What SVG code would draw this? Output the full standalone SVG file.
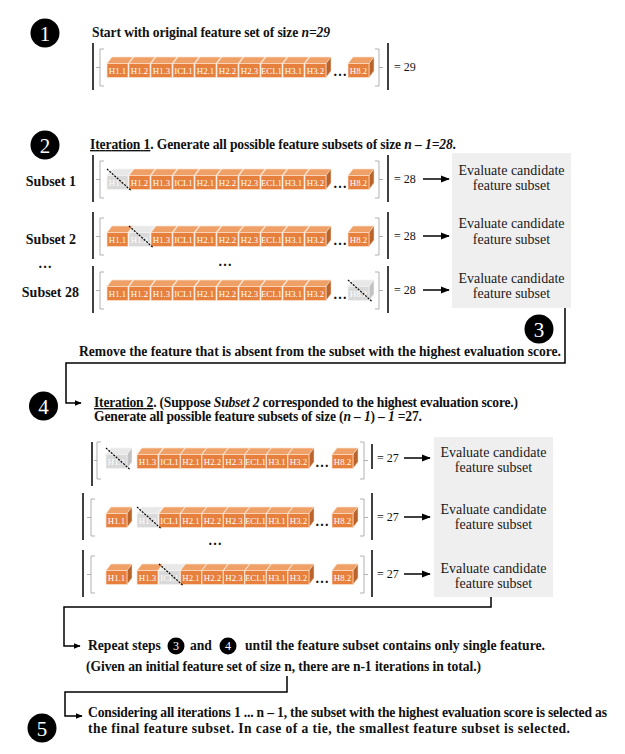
<svg xmlns="http://www.w3.org/2000/svg" width="625" height="754" viewBox="0 0 625 754">
<style>
.b{font-family:"Liberation Serif","Times New Roman",serif;font-weight:bold;font-size:13.6px;fill:#111}
.sl{font-family:"Liberation Serif","Times New Roman",serif;font-weight:bold;font-size:14px;fill:#111;text-anchor:end}
.r{font-family:"Liberation Serif","Times New Roman",serif;font-size:14px;fill:#1a1a1a;text-anchor:middle}
.cl{font-family:"Liberation Serif","Times New Roman",serif;font-size:8.8px;fill:#fff;text-anchor:middle}
.eq{font-family:"Liberation Serif","Times New Roman",serif;font-size:12px;fill:#111}
.dt{font-family:"Liberation Serif","Times New Roman",serif;font-weight:bold;font-size:14px;fill:#111;text-anchor:middle}
.num{font-family:"Liberation Serif","Times New Roman",serif;font-size:21px;fill:#fff;text-anchor:middle}
.nums{font-family:"Liberation Serif","Times New Roman",serif;font-size:12px;fill:#fff;text-anchor:middle}
.bar{stroke:#000;stroke-width:1.5}
.brk{fill:none;stroke:#a8a8a8;stroke-width:0.9}
.of{fill:#E8803D;stroke:#FBE3CF;stroke-width:0.7}
.ot{fill:#EFA067;stroke:#FBE3CF;stroke-width:0.7}
.os{fill:#BA632B;stroke:#FBE3CF;stroke-width:0.5}
.gf{fill:#D9D9D9;stroke:#f4f4f4;stroke-width:0.7}
.gt{fill:#E8E8E8;stroke:#f4f4f4;stroke-width:0.7}
.gs{fill:#C2C2C2;stroke:#f4f4f4;stroke-width:0.5}
.cut{stroke:#000;stroke-width:1.2;stroke-dasharray:2 1.3}
.con{fill:none;stroke:#000;stroke-width:1.5}
.box{fill:#EFEFEF}
</style>
<defs>
<marker id="ah" viewBox="0 0 10 8" refX="9" refY="4" markerWidth="9" markerHeight="8" markerUnits="userSpaceOnUse" orient="auto"><path d="M0,0 L10,4 L0,8 Z" fill="#000"/></marker>
<marker id="ahs" viewBox="0 0 10 8" refX="9" refY="4" markerWidth="7" markerHeight="6" markerUnits="userSpaceOnUse" orient="auto"><path d="M0,0 L10,4 L0,8 Z" fill="#000"/></marker>
<g id="co"><path class="ot" d="M0,0 L5,-6.5 L26,-6.5 L21,0Z"/><rect class="of" x="0" y="0" width="21" height="14"/></g>
<g id="cos"><path class="ot" d="M0,0 L5,-6.5 L26,-6.5 L21,0Z"/><path class="os" d="M21,0 L26,-6.5 L26,7.5 L21,14Z"/><rect class="of" x="0" y="0" width="21" height="14"/></g>
<g id="cg"><path class="gt" d="M0,0 L5,-6.5 L26,-6.5 L21,0Z"/><rect class="gf" x="0" y="0" width="21" height="14"/></g>
<g id="cgs"><path class="gt" d="M0,0 L5,-6.5 L26,-6.5 L21,0Z"/><path class="gs" d="M21,0 L26,-6.5 L26,7.5 L21,14Z"/><rect class="gf" x="0" y="0" width="21" height="14"/></g>
</defs>
<rect width="625" height="754" fill="#fff"/>

<!-- Step 1 -->
<g id="step1">
<circle cx="45" cy="33" r="14.5" fill="#000"/><text class="num" x="45" y="40.5">1</text>
<text class="b" x="92" y="37" textLength="238">Start with original feature set of size <tspan font-style="italic">n=29</tspan></text>
</g>
<g id="row0" transform="translate(0,65)">
<line class="bar" x1="93" y1="-22" x2="93" y2="25"/>
<path class="brk" d="M104,-16 H100 V21 H104 M100,2.5 H96"/>
<use href="#co" x="107" y="-1.5"/><text class="cl" x="117.5" y="8.8">H1.1</text>
<use href="#co" x="129" y="-1.5"/><text class="cl" x="139.5" y="8.8">H1.2</text>
<use href="#co" x="151" y="-1.5"/><text class="cl" x="161.5" y="8.8">H1.3</text>
<use href="#co" x="173" y="-1.5"/><text class="cl" x="183.5" y="8.8">ICL1</text>
<use href="#co" x="195" y="-1.5"/><text class="cl" x="205.5" y="8.8">H2.1</text>
<use href="#co" x="217" y="-1.5"/><text class="cl" x="227.5" y="8.8">H2.2</text>
<use href="#co" x="239" y="-1.5"/><text class="cl" x="249.5" y="8.8">H2.3</text>
<use href="#co" x="261" y="-1.5"/><text class="cl" x="271.5" y="8.8">ECL1</text>
<use href="#co" x="283" y="-1.5"/><text class="cl" x="293.5" y="8.8">H3.1</text>
<use href="#cos" x="305" y="-1.5"/><text class="cl" x="315.5" y="8.8">H3.2</text>
<text class="dt" x="340" y="11">…</text>
<use href="#cos" x="348" y="-1.5"/><text class="cl" x="358.5" y="8.8">H8.2</text>
<path class="brk" d="M375,-16 H379 V21 H375 M379,2.5 H383"/>
<line class="bar" x1="388" y1="-22" x2="388" y2="25"/>
<text class="eq" x="394" y="6">= 29</text>
</g>

<!-- Step 2 -->
<g id="step2">
<circle cx="45" cy="145" r="14.5" fill="#000"/><text class="num" x="45" y="152.5">2</text>
<text class="b" x="90" y="149" textLength="366"><tspan text-decoration="underline">Iteration 1</tspan>. Generate all possible feature subsets of size <tspan font-style="italic">n – 1=28</tspan>.</text>
<text class="sl" x="76" y="186">Subset 1</text>
<text class="sl" x="76" y="243.5">Subset 2</text>
<text class="dt" x="45" y="268">…</text>
<text class="sl" x="79" y="297">Subset 28</text>
<text class="dt" x="225" y="266">…</text>
</g>
<g id="rowA" transform="translate(0,177)">
<line class="bar" x1="93" y1="-22" x2="93" y2="25"/>
<path class="brk" d="M104,-16 H100 V21 H104 M100,2.5 H96"/>
<use href="#cg" x="107" y="-1.5"/><text class="cl" x="117.5" y="8.8">H1.1</text>
<use href="#co" x="129" y="-1.5"/><text class="cl" x="139.5" y="8.8">H1.2</text>
<use href="#co" x="151" y="-1.5"/><text class="cl" x="161.5" y="8.8">H1.3</text>
<use href="#co" x="173" y="-1.5"/><text class="cl" x="183.5" y="8.8">ICL1</text>
<use href="#co" x="195" y="-1.5"/><text class="cl" x="205.5" y="8.8">H2.1</text>
<use href="#co" x="217" y="-1.5"/><text class="cl" x="227.5" y="8.8">H2.2</text>
<use href="#co" x="239" y="-1.5"/><text class="cl" x="249.5" y="8.8">H2.3</text>
<use href="#co" x="261" y="-1.5"/><text class="cl" x="271.5" y="8.8">ECL1</text>
<use href="#co" x="283" y="-1.5"/><text class="cl" x="293.5" y="8.8">H3.1</text>
<use href="#cos" x="305" y="-1.5"/><text class="cl" x="315.5" y="8.8">H3.2</text>
<text class="dt" x="340" y="11">…</text>
<use href="#cos" x="348" y="-1.5"/><text class="cl" x="358.5" y="8.8">H8.2</text>
<line class="cut" x1="107" y1="-8" x2="131" y2="13.5"/>
<path class="brk" d="M375,-16 H379 V21 H375 M379,2.5 H383"/>
<line class="bar" x1="388" y1="-22" x2="388" y2="25"/>
<text class="eq" x="394" y="6">= 28</text>
</g>
<g id="rowB" transform="translate(0,234)">
<line class="bar" x1="93" y1="-22" x2="93" y2="25"/>
<path class="brk" d="M104,-16 H100 V21 H104 M100,2.5 H96"/>
<use href="#co" x="107" y="-1.5"/><text class="cl" x="117.5" y="8.8">H1.1</text>
<use href="#cg" x="129" y="-1.5"/><text class="cl" x="139.5" y="8.8">H1.2</text>
<use href="#co" x="151" y="-1.5"/><text class="cl" x="161.5" y="8.8">H1.3</text>
<use href="#co" x="173" y="-1.5"/><text class="cl" x="183.5" y="8.8">ICL1</text>
<use href="#co" x="195" y="-1.5"/><text class="cl" x="205.5" y="8.8">H2.1</text>
<use href="#co" x="217" y="-1.5"/><text class="cl" x="227.5" y="8.8">H2.2</text>
<use href="#co" x="239" y="-1.5"/><text class="cl" x="249.5" y="8.8">H2.3</text>
<use href="#co" x="261" y="-1.5"/><text class="cl" x="271.5" y="8.8">ECL1</text>
<use href="#co" x="283" y="-1.5"/><text class="cl" x="293.5" y="8.8">H3.1</text>
<use href="#cos" x="305" y="-1.5"/><text class="cl" x="315.5" y="8.8">H3.2</text>
<text class="dt" x="340" y="11">…</text>
<use href="#cos" x="348" y="-1.5"/><text class="cl" x="358.5" y="8.8">H8.2</text>
<line class="cut" x1="129" y1="-8" x2="153" y2="13.5"/>
<path class="brk" d="M375,-16 H379 V21 H375 M379,2.5 H383"/>
<line class="bar" x1="388" y1="-22" x2="388" y2="25"/>
<text class="eq" x="394" y="6">= 28</text>
</g>
<g id="rowC" transform="translate(0,288)">
<line class="bar" x1="93" y1="-22" x2="93" y2="25"/>
<path class="brk" d="M104,-16 H100 V21 H104 M100,2.5 H96"/>
<use href="#co" x="107" y="-1.5"/><text class="cl" x="117.5" y="8.8">H1.1</text>
<use href="#co" x="129" y="-1.5"/><text class="cl" x="139.5" y="8.8">H1.2</text>
<use href="#co" x="151" y="-1.5"/><text class="cl" x="161.5" y="8.8">H1.3</text>
<use href="#co" x="173" y="-1.5"/><text class="cl" x="183.5" y="8.8">ICL1</text>
<use href="#co" x="195" y="-1.5"/><text class="cl" x="205.5" y="8.8">H2.1</text>
<use href="#co" x="217" y="-1.5"/><text class="cl" x="227.5" y="8.8">H2.2</text>
<use href="#co" x="239" y="-1.5"/><text class="cl" x="249.5" y="8.8">H2.3</text>
<use href="#co" x="261" y="-1.5"/><text class="cl" x="271.5" y="8.8">ECL1</text>
<use href="#co" x="283" y="-1.5"/><text class="cl" x="293.5" y="8.8">H3.1</text>
<use href="#cos" x="305" y="-1.5"/><text class="cl" x="315.5" y="8.8">H3.2</text>
<text class="dt" x="340" y="11">…</text>
<use href="#cgs" x="348" y="-1.5"/><text class="cl" x="358.5" y="8.8">H8.2</text>
<line class="cut" x1="348" y1="-8" x2="372" y2="13.5"/>
<path class="brk" d="M375,-16 H379 V21 H375 M379,2.5 H383"/>
<line class="bar" x1="388" y1="-22" x2="388" y2="25"/>
<text class="eq" x="394" y="6">= 28</text>
</g>
<g id="eval1">
<rect class="box" x="452" y="153" width="119" height="155"/>
<text class="r" x="511.5" y="174.5">Evaluate candidate</text><text class="r" x="511.5" y="189.5">feature subset</text>
<text class="r" x="511.5" y="227.5">Evaluate candidate</text><text class="r" x="511.5" y="243.5">feature subset</text>
<text class="r" x="511.5" y="282.5">Evaluate candidate</text><text class="r" x="511.5" y="297.5">feature subset</text>
</g>

<!-- Step 3 -->
<g id="step3">
<circle cx="539" cy="329" r="14.5" fill="#000"/><text class="num" x="539" y="336.5">3</text>
<text class="b" x="79" y="356" textLength="482">Remove the feature that is absent from the subset with the highest evaluation score.</text>
</g>

<!-- Step 4 -->
<g id="step4">
<circle cx="43.5" cy="406" r="14.5" fill="#000"/><text class="num" x="43.5" y="413.5">4</text>
<text class="b" x="94" y="407" textLength="424"><tspan text-decoration="underline">Iteration 2</tspan>. (Suppose <tspan font-style="italic">Subset 2</tspan> corresponded to the highest evaluation score.)</text>
<text class="b" x="94" y="421" textLength="328">Generate all possible feature subsets of size (<tspan font-style="italic">n – 1</tspan>) – <tspan font-style="italic">1</tspan> =27.</text>
<text class="dt" x="215" y="545">…</text>
</g>
<g id="rowD" transform="translate(0,456)">
<line class="bar" x1="92" y1="-14" x2="92" y2="30"/>
<path class="brk" d="M101,-14 H97 V23 H101 M97,4.5 H94"/>
<use href="#cgs" x="106" y="-1.5"/><text class="cl" x="116.5" y="8.8">H1.1</text>
<use href="#co" x="137" y="-1.5"/><text class="cl" x="147.5" y="8.8">H1.3</text>
<use href="#co" x="159" y="-1.5"/><text class="cl" x="169.5" y="8.8">ICL1</text>
<use href="#co" x="180.5" y="-1.5"/><text class="cl" x="191" y="8.8">H2.1</text>
<use href="#co" x="202" y="-1.5"/><text class="cl" x="212.5" y="8.8">H2.2</text>
<use href="#co" x="223.5" y="-1.5"/><text class="cl" x="234" y="8.8">H2.3</text>
<use href="#co" x="245" y="-1.5"/><text class="cl" x="255.5" y="8.8">ECL1</text>
<use href="#co" x="266.5" y="-1.5"/><text class="cl" x="277" y="8.8">H3.1</text>
<use href="#cos" x="288" y="-1.5"/><text class="cl" x="298.5" y="8.8">H3.2</text>
<text class="dt" x="322" y="11">…</text>
<use href="#cos" x="332" y="-1.5"/><text class="cl" x="342.5" y="8.8">H8.2</text>
<line class="cut" x1="106" y1="-8" x2="130" y2="13.5"/>
<path class="brk" d="M360,-14 H364 V23 H360 M364,4.5 H368"/>
<line class="bar" x1="372" y1="-12" x2="372" y2="13"/>
<text class="eq" x="377" y="6">= 27</text>
</g>
<g id="rowE" transform="translate(0,515)">
<line class="bar" x1="83" y1="-22" x2="83" y2="25"/>
<path class="brk" d="M95,-16 H91 V21 H95 M91,2.5 H87"/>
<use href="#cos" x="106" y="-1.5"/><text class="cl" x="116.5" y="8.8">H1.1</text>
<use href="#cg" x="137" y="-1.5"/><text class="cl" x="147.5" y="8.8">H1.3</text>
<use href="#co" x="159" y="-1.5"/><text class="cl" x="169.5" y="8.8">ICL1</text>
<use href="#co" x="180.5" y="-1.5"/><text class="cl" x="191" y="8.8">H2.1</text>
<use href="#co" x="202" y="-1.5"/><text class="cl" x="212.5" y="8.8">H2.2</text>
<use href="#co" x="223.5" y="-1.5"/><text class="cl" x="234" y="8.8">H2.3</text>
<use href="#co" x="245" y="-1.5"/><text class="cl" x="255.5" y="8.8">ECL1</text>
<use href="#co" x="266.5" y="-1.5"/><text class="cl" x="277" y="8.8">H3.1</text>
<use href="#cos" x="288" y="-1.5"/><text class="cl" x="298.5" y="8.8">H3.2</text>
<text class="dt" x="322" y="11">…</text>
<use href="#cos" x="332" y="-1.5"/><text class="cl" x="342.5" y="8.8">H8.2</text>
<line class="cut" x1="137" y1="-8" x2="161" y2="13.5"/>
<path class="brk" d="M360,-16 H364 V21 H360 M364,2.5 H368"/>
<line class="bar" x1="372" y1="-22" x2="372" y2="25"/>
<text class="eq" x="377" y="6">= 27</text>
</g>
<g id="rowF" transform="translate(0,572)">
<line class="bar" x1="83" y1="-22" x2="83" y2="25"/>
<path class="brk" d="M95,-16 H91 V21 H95 M91,2.5 H87"/>
<use href="#cos" x="106" y="-1.5"/><text class="cl" x="116.5" y="8.8">H1.1</text>
<use href="#co" x="137" y="-1.5"/><text class="cl" x="147.5" y="8.8">H1.3</text>
<use href="#cg" x="159" y="-1.5"/><text class="cl" x="169.5" y="8.8">ICL1</text>
<use href="#co" x="180.5" y="-1.5"/><text class="cl" x="191" y="8.8">H2.1</text>
<use href="#co" x="202" y="-1.5"/><text class="cl" x="212.5" y="8.8">H2.2</text>
<use href="#co" x="223.5" y="-1.5"/><text class="cl" x="234" y="8.8">H2.3</text>
<use href="#co" x="245" y="-1.5"/><text class="cl" x="255.5" y="8.8">ECL1</text>
<use href="#co" x="266.5" y="-1.5"/><text class="cl" x="277" y="8.8">H3.1</text>
<use href="#cos" x="288" y="-1.5"/><text class="cl" x="298.5" y="8.8">H3.2</text>
<text class="dt" x="322" y="11">…</text>
<use href="#cos" x="332" y="-1.5"/><text class="cl" x="342.5" y="8.8">H8.2</text>
<line class="cut" x1="159" y1="-8" x2="183" y2="13.5"/>
<path class="brk" d="M360,-16 H364 V21 H360 M364,2.5 H368"/>
<line class="bar" x1="372" y1="-22" x2="372" y2="25"/>
<text class="eq" x="377" y="6">= 27</text>
</g>
<g id="eval2">
<rect class="box" x="434" y="437" width="119" height="160"/>
<text class="r" x="493.5" y="457">Evaluate candidate</text><text class="r" x="493.5" y="472">feature subset</text>
<text class="r" x="493.5" y="514">Evaluate candidate</text><text class="r" x="493.5" y="529">feature subset</text>
<text class="r" x="493.5" y="573">Evaluate candidate</text><text class="r" x="493.5" y="588">feature subset</text>
</g>

<!-- Repeat -->
<g id="repeat">
<text class="b" x="88" y="650">Repeat steps</text>
<circle cx="176" cy="646" r="8.5" fill="#000"/><text class="nums" x="176" y="650">3</text>
<text class="b" x="190" y="650">and</text>
<circle cx="228" cy="646" r="8.5" fill="#000"/><text class="nums" x="228" y="650">4</text>
<text class="b" x="245" y="650" textLength="300">until the feature subset contains only single feature.</text>
<text class="b" x="86" y="671" textLength="395">(Given an initial feature set of size n, there are n-1 iterations in total.)</text>
</g>

<!-- Step 5 -->
<g id="step5">
<circle cx="42" cy="728" r="14.5" fill="#000"/><text class="num" x="42" y="735.5">5</text>
<text class="b" x="88" y="717" textLength="519">Considering all iterations 1 ... n – 1, the subset with the highest evaluation score is selected as</text>
<text class="b" x="88" y="733" textLength="482">the final feature subset. In case of a tie, the smallest feature subset is selected.</text>
</g>

<g id="connectors">
<line class="con" x1="423" y1="179" x2="449" y2="179" marker-end="url(#ah)"/>
<line class="con" x1="423" y1="236" x2="449" y2="236" marker-end="url(#ah)"/>
<line class="con" x1="423" y1="290" x2="449" y2="290" marker-end="url(#ah)"/>
<line class="con" x1="404" y1="458" x2="430" y2="458" marker-end="url(#ah)"/>
<line class="con" x1="404" y1="517" x2="430" y2="517" marker-end="url(#ah)"/>
<line class="con" x1="404" y1="574" x2="430" y2="574" marker-end="url(#ah)"/>
<path class="con" d="M565,308 V363 H66 V403 H81" marker-end="url(#ahs)"/>
<path class="con" d="M491,597 V607 H64 V646 H80" marker-end="url(#ahs)"/>
<path class="con" d="M287,676 V692 H65 V716 H82" marker-end="url(#ahs)"/>
</g>
</svg>
